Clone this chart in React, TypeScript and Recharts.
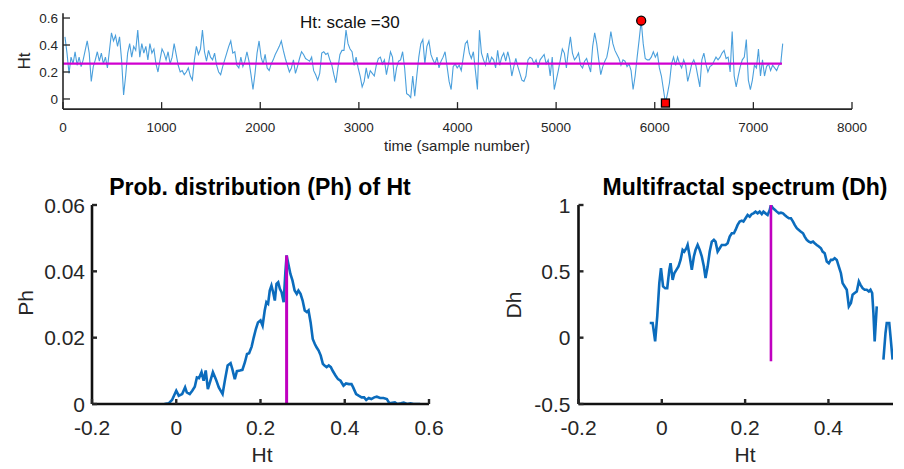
import React from 'react';
import { LineChart, Line, XAxis, YAxis, ReferenceLine, ReferenceDot } from 'recharts';

// time series Ht (scale = 30), one value every TIME_STEP samples
const TIME_START = 20;
const TIME_STEP = 20.5;
const htFirstHalf = [
  0.46, 0.34, 0.19, 0.31, 0.26, 0.35, 0.25, 0.31, 0.24, 0.29,
  0.36, 0.43, 0.34, 0.13, 0.24, 0.29, 0.35, 0.28, 0.34, 0.26,
  0.31, 0.23, 0.36, 0.49, 0.43, 0.47, 0.39, 0.46, 0.29, 0.03,
  0.17, 0.34, 0.41, 0.31, 0.39, 0.36, 0.51, 0.31, 0.41, 0.34,
  0.39, 0.29, 0.41, 0.34, 0.37, 0.26, 0.20, 0.29, 0.37, 0.34,
  0.29, 0.35, 0.26, 0.31, 0.41, 0.33, 0.25, 0.20, 0.21, 0.18,
  0.20, 0.23, 0.17, 0.14, 0.29, 0.39, 0.33, 0.37, 0.51, 0.35,
  0.28, 0.36, 0.31, 0.29, 0.34, 0.25, 0.20, 0.18, 0.24, 0.29,
  0.34, 0.39, 0.43, 0.34, 0.35, 0.25, 0.23, 0.31, 0.24, 0.28,
  0.35, 0.28, 0.18, 0.07, 0.19, 0.34, 0.43, 0.31, 0.26, 0.33,
  0.23, 0.21, 0.26, 0.29, 0.33, 0.36, 0.39, 0.43, 0.36, 0.30,
  0.25, 0.20, 0.23, 0.29, 0.19, 0.24, 0.30, 0.35, 0.33, 0.30,
  0.29, 0.28, 0.31, 0.21, 0.18, 0.14, 0.19, 0.34, 0.35, 0.33,
  0.34, 0.29, 0.25, 0.18, 0.12, 0.23, 0.33, 0.36, 0.36, 0.51,
  0.41, 0.37, 0.35, 0.25, 0.31, 0.23, 0.17, 0.09, 0.13, 0.23,
  0.15, 0.21, 0.19, 0.17, 0.25, 0.30, 0.31, 0.26, 0.29, 0.18,
  0.26, 0.35, 0.31, 0.13, 0.23, 0.28, 0.29, 0.35, 0.23, 0.04,
  0.03, 0.01, 0.17,
];
const htSecondHalf = [
  0.02, 0.17, 0.31, 0.41, 0.44, 0.26, 0.39, 0.43, 0.33, 0.29,
  0.26, 0.31, 0.23, 0.28, 0.31, 0.35, 0.24, 0.13, 0.07, 0.24,
  0.26, 0.23, 0.25, 0.21, 0.31, 0.41, 0.43, 0.34, 0.30, 0.35,
  0.21, 0.07, 0.51, 0.34, 0.29, 0.25, 0.34, 0.26, 0.31, 0.29,
  0.23, 0.36, 0.25, 0.31, 0.34, 0.28, 0.35, 0.29, 0.17, 0.24,
  0.30, 0.24, 0.19, 0.14, 0.13, 0.17, 0.29, 0.31, 0.30, 0.26,
  0.29, 0.23, 0.29, 0.31, 0.33, 0.26, 0.29, 0.17, 0.31, 0.07,
  0.14, 0.21, 0.29, 0.37, 0.34, 0.23, 0.36, 0.46, 0.34, 0.29,
  0.31, 0.34, 0.25, 0.23, 0.28, 0.30, 0.25, 0.20, 0.39, 0.49,
  0.41, 0.29, 0.18, 0.24, 0.28, 0.31, 0.39, 0.50, 0.41, 0.36,
  0.33, 0.30, 0.25, 0.29, 0.28, 0.24, 0.26, 0.21, 0.07, 0.17,
  0.31, 0.44, 0.58, 0.41, 0.30, 0.29, 0.29, 0.31, 0.35, 0.31,
  0.34, 0.23, 0.17, 0.07, -0.03, 0.04, 0.12, 0.26, 0.31, 0.25,
  0.31, 0.26, 0.23, 0.29, 0.25, 0.13, 0.19, 0.26, 0.29, 0.25,
  0.17, 0.09, 0.29, 0.34, 0.26, 0.20, 0.24, 0.25, 0.28, 0.31,
  0.29, 0.31, 0.34, 0.36, 0.30, 0.31, 0.20, 0.50, 0.17, 0.09,
  0.17, 0.24, 0.29, 0.31, 0.44, 0.14, 0.07, 0.14, 0.25, 0.23,
  0.37, 0.17, 0.29, 0.17, 0.24, 0.26, 0.21, 0.25, 0.23, 0.21,
  0.25, 0.26, 0.41,
];
const MEAN_HT = 0.262;
const MEAN_END = 7290;

// probability distribution Ph(h)
const phH = [
  -0.028, -0.018, -0.01, 0, 0.006, 0.014, 0.021, 0.025, 0.032, 0.038,
  0.044, 0.049, 0.054, 0.06, 0.065, 0.07, 0.075, 0.081, 0.087, 0.094,
  0.101, 0.11, 0.116, 0.122, 0.129, 0.133, 0.139, 0.144, 0.151, 0.157,
  0.163, 0.168, 0.173, 0.179, 0.184, 0.189, 0.194, 0.2, 0.205, 0.21,
  0.214, 0.218, 0.222, 0.226, 0.23, 0.234, 0.238, 0.242, 0.246, 0.25,
  0.255, 0.259, 0.262, 0.266, 0.271, 0.276, 0.281, 0.286, 0.29, 0.295,
  0.3, 0.305, 0.31, 0.314, 0.319, 0.324, 0.329, 0.333, 0.338, 0.343,
  0.348, 0.352, 0.357, 0.362, 0.367, 0.371, 0.378, 0.384, 0.39, 0.397,
  0.403, 0.41, 0.416, 0.42, 0.427, 0.433, 0.44, 0.446, 0.451, 0.457,
  0.463, 0.47, 0.476, 0.484, 0.492, 0.5, 0.506, 0.513, 0.519, 0.525,
  0.533, 0.54, 0.548, 0.556, 0.563, 0.579,
];
const phVal = [
  0, 0.0002, 0.0012, 0.004, 0.0025, 0.003, 0.005, 0.0035, 0.003, 0.004,
  0.0052, 0.008, 0.0078, 0.0096, 0.007, 0.0101, 0.0045, 0.007, 0.0096, 0.0075,
  0.005, 0.003, 0.0075, 0.0116, 0.0123, 0.0106, 0.0075, 0.0099, 0.0101, 0.0103,
  0.0126, 0.0151, 0.0153, 0.0173, 0.0201, 0.0226, 0.0246, 0.0252, 0.0236, 0.0282,
  0.0307, 0.0302, 0.0342, 0.0357, 0.0337, 0.0312, 0.0362, 0.0367, 0.0347, 0.0337,
  0.0307, 0.0397, 0.0448, 0.0423, 0.0392, 0.0372, 0.0342, 0.0332, 0.0342, 0.0332,
  0.0312, 0.0282, 0.0277, 0.0282, 0.0246, 0.0196, 0.0181, 0.0171, 0.0161, 0.0146,
  0.0121, 0.0116, 0.0111, 0.0116, 0.0111, 0.0101, 0.0086, 0.0075, 0.007, 0.0055,
  0.0062, 0.006, 0.006, 0.005, 0.003, 0.0025, 0.002, 0.002, 0.0012, 0.0018,
  0.0015, 0.002, 0.0022, 0.0018, 0.0018, 0.0015, 0.0002, 0.0004, 0.0005, 0,
  0.0002, 0.0004, 0, 0.0002, 0, 0,
];

// multifractal spectrum Dh(h), null = gap
const dhH = [
  -0.029, -0.022, -0.016, -0.011, -0.006, -0.002, 0.003, 0.008, 0.013, 0.018,
  0.021, 0.026, 0.03, 0.035, 0.04, 0.045, 0.05, 0.054, 0.059, 0.062,
  0.067, 0.072, 0.077, 0.081, 0.086, 0.091, 0.096, 0.101, 0.105, 0.11,
  0.115, 0.12, 0.125, 0.129, 0.134, 0.139, 0.144, 0.149, 0.153, 0.158,
  0.163, 0.168, 0.173, 0.177, 0.182, 0.187, 0.192, 0.196, 0.201, 0.206,
  0.211, 0.216, 0.22, 0.225, 0.23, 0.235, 0.24, 0.244, 0.249, 0.254,
  0.259, 0.262, 0.267, 0.272, 0.276, 0.281, 0.286, 0.291, 0.295, 0.3,
  0.305, 0.31, 0.315, 0.319, 0.324, 0.329, 0.334, 0.339, 0.343, 0.348,
  0.353, 0.358, 0.363, 0.367, 0.372, 0.377, 0.382, 0.386, 0.391, 0.396,
  0.401, 0.406, 0.41, 0.415, 0.42, 0.425, 0.43, 0.434, 0.439, 0.444,
  0.449, 0.454, 0.458, 0.463, 0.468, 0.473, 0.477, 0.482, 0.487, 0.492,
  0.497, 0.501, 0.505, 0.508, 0.511, 0.516, 0.524, 0.532, 0.537, 0.54,
  0.546, 0.549, 0.554,
];
const dhVal = [
  0.11, 0.11, -0.028, 0.16, 0.411, 0.524, 0.386, 0.373, 0.373, 0.511,
  0.561, 0.436, 0.486, 0.511, 0.536, 0.586, 0.662, 0.649, 0.674, 0.699,
  0.612, 0.511, 0.612, 0.662, 0.699, 0.662, 0.612, 0.536, 0.449, 0.536,
  0.649, 0.724, 0.737, 0.724, 0.649, 0.674, 0.699, 0.699, 0.699, 0.712,
  0.762, 0.787, 0.787, 0.812, 0.85, 0.875, 0.882, 0.875, 0.9, 0.925,
  0.912, 0.932, 0.937, 0.95, 0.937, 0.95, 0.932, 0.95, 0.937, 0.925,
  0.962, 1.0, 0.975, 0.962, 0.95, 0.937, 0.942, 0.937, 0.925, 0.912,
  0.9, 0.9, 0.875, 0.85, 0.825, 0.812, 0.799, 0.787, 0.762, 0.737,
  0.724, 0.717, 0.724, 0.712, 0.699, 0.687, 0.674, 0.649, 0.637, 0.574,
  0.561, 0.586, 0.586, 0.599, 0.586, 0.536, 0.486, 0.411, 0.386, 0.361,
  0.236, 0.261, 0.323, 0.336, 0.348, 0.424, 0.398, 0.373, 0.361, 0.361,
  0.348, 0.361, 0.336, 0.185, -0.028, 0.236, null, -0.165, 0.035, 0.11,
  0.11, 0.01, -0.165,
];
const DH_MIN = -0.178;

const topTicksX = [0, 1000, 2000, 3000, 4000, 5000, 6000, 7000, 8000];
const topTicksY = [0, 0.2, 0.4, 0.6];
const phTicksX = [-0.2, 0, 0.2, 0.4, 0.6];
const phTicksY = [0, 0.02, 0.04, 0.06];
const dhTicksX = [-0.2, 0, 0.2, 0.4];
const dhTicksY = [-0.5, 0, 0.5, 1];

const htValues = [...htFirstHalf, ...htSecondHalf];
const seriesData = htValues.map((v, i) => ({ t: TIME_START + i * TIME_STEP, ht: v }));
const phData = phH.map((h, i) => ({ h, p: phVal[i] }));
const dhData = dhH.map((h, i) => ({ h, d: dhVal[i] }));

let iMax = 0;
let iMin = 0;
htValues.forEach((v, i) => {
  if (v > htValues[iMax]) iMax = i;
  if (v < htValues[iMin]) iMin = i;
});
const maxPt = seriesData[iMax];
const minPt = seriesData[iMin];

const FONT = "'Liberation Sans', Arial, Helvetica, sans-serif";
const AXIS = '#262626';
const BLUE = '#0b6cbd';
const MAGENTA = '#c000c0';

const fmt = (v: number) => String(+v.toFixed(3));

function xTick(len: number, fs: number, dy: number, w: number) {
  return (props: any) => {
    const { x, y, payload } = props;
    return (
      <g>
        <line x1={x} y1={y} x2={x} y2={y - len} stroke={AXIS} strokeWidth={w} />
        <text x={x} y={y + dy} textAnchor="middle" fontSize={fs} fill={AXIS} fontFamily={FONT}>
          {fmt(payload.value)}
        </text>
      </g>
    );
  };
}

function yTick(len: number, fs: number, gap: number, w: number) {
  return (props: any) => {
    const { x, y, payload } = props;
    return (
      <g>
        <line x1={x} y1={y} x2={x + len} y2={y} stroke={AXIS} strokeWidth={w} />
        <text x={x - gap} y={y + fs * 0.36} textAnchor="end" fontSize={fs} fill={AXIS} fontFamily={FONT}>
          {fmt(payload.value)}
        </text>
      </g>
    );
  };
}

const RedSquare = (p: any) => (
  <rect x={p.cx - 4} y={p.cy - 4} width={8} height={8} fill="#ff0000" stroke="#000" strokeWidth={1.3} />
);

export default function App() {
  return (
    <div style={{ position: 'absolute', left: 0, top: 0, width: 904, height: 469, background: '#fff', overflow: 'hidden' }}>
      {/* top: Ht time series */}
      <div style={{ position: 'absolute', left: 0, top: 0 }}>
        <LineChart width={904} height={160} data={seriesData} margin={{ top: 13.3, right: 52, bottom: 20.9, left: 13 }}>
          <XAxis
            dataKey="t" type="number" domain={[0, 8000]} ticks={topTicksX} interval={0}
            height={30} tickSize={0} tickMargin={0} tickLine={false}
            axisLine={{ stroke: AXIS, strokeWidth: 1.6 }}
            tick={xTick(7, 13.5, 22.5, 1.3)}
          />
          <YAxis
            type="number" domain={[-0.075, 0.635]} ticks={topTicksY} interval={0} allowDataOverflow
            width={50} tickSize={0} tickMargin={0} tickLine={false}
            axisLine={{ stroke: AXIS, strokeWidth: 1.6 }}
            tick={yTick(7, 13.5, 5, 1.3)}
          />
          <Line dataKey="ht" stroke="#4a9fdc" strokeWidth={1.1} dot={false} activeDot={false} isAnimationActive={false} />
          <ReferenceLine
            segment={[{ x: 0, y: MEAN_HT }, { x: MEAN_END, y: MEAN_HT }]}
            stroke="#d000d0" strokeWidth={2.2}
          />
          <ReferenceDot x={maxPt.t} y={maxPt.ht} r={4.5} fill="#ff0000" stroke="#000" strokeWidth={1.3} />
          <ReferenceDot x={minPt.t} y={minPt.ht} shape={RedSquare} />
        </LineChart>
      </div>

      {/* bottom-left: Ph */}
      <div style={{ position: 'absolute', left: 0, top: 160 }}>
        <LineChart width={452} height={309} data={phData} margin={{ top: 45, right: 23, bottom: 25, left: 32 }}>
          <XAxis
            dataKey="h" type="number" domain={[-0.2, 0.6]} ticks={phTicksX} interval={0} allowDataOverflow
            height={40} tickSize={0} tickMargin={0} tickLine={false}
            axisLine={{ stroke: '#111', strokeWidth: 2.6 }}
            tick={xTick(5, 21, 30.5, 2.4)}
          />
          <YAxis
            type="number" domain={[0, 0.06]} ticks={phTicksY} interval={0} allowDataOverflow
            width={60} tickSize={0} tickMargin={0} tickLine={false}
            axisLine={{ stroke: '#111', strokeWidth: 2.6 }}
            tick={yTick(5, 21, 7, 2.4)}
          />
          <Line dataKey="p" stroke={BLUE} strokeWidth={2.6} dot={false} activeDot={false} isAnimationActive={false} />
          <ReferenceLine
            segment={[{ x: MEAN_HT, y: 0 }, { x: MEAN_HT, y: Math.max(...phVal) }]}
            stroke={MAGENTA} strokeWidth={3}
          />
        </LineChart>
      </div>

      {/* bottom-right: Dh */}
      <div style={{ position: 'absolute', left: 452, top: 160 }}>
        <LineChart width={452} height={309} data={dhData} margin={{ top: 45, right: 11, bottom: 25, left: 66.5 }}>
          <XAxis
            dataKey="h" type="number" domain={[-0.2, 0.555]} ticks={dhTicksX} interval={0} allowDataOverflow
            height={40} tickSize={0} tickMargin={0} tickLine={false}
            axisLine={{ stroke: '#111', strokeWidth: 2.6 }}
            tick={xTick(5, 21, 30.5, 2.4)}
          />
          <YAxis
            type="number" domain={[-0.5, 1]} ticks={dhTicksY} interval={0} allowDataOverflow
            width={60} tickSize={0} tickMargin={0} tickLine={false}
            axisLine={{ stroke: '#111', strokeWidth: 2.6 }}
            tick={yTick(5, 21, 8, 2.4)}
          />
          <Line dataKey="d" stroke={BLUE} strokeWidth={2.6} dot={false} activeDot={false} isAnimationActive={false} />
          <ReferenceLine
            segment={[{ x: MEAN_HT, y: DH_MIN }, { x: MEAN_HT, y: 1 }]}
            stroke={MAGENTA} strokeWidth={2.6}
          />
        </LineChart>
      </div>

      {/* titles and axis labels */}
      <svg width={904} height={469} style={{ position: 'absolute', left: 0, top: 0, pointerEvents: 'none' }} fontFamily={FONT}>
        <text x={30} y={61} fontSize={17} fill={AXIS} textAnchor="middle" transform="rotate(-90 30 61)">Ht</text>
        <text x={457} y={151} fontSize={15} fill={AXIS} textAnchor="middle">time (sample number)</text>
        <text x={300} y={28} fontSize={17} fill="#111">Ht: scale =30</text>

        <text x={260} y={195} fontSize={23} fontWeight="bold" fill="#000" textAnchor="middle">Prob. distribution (Ph) of Ht</text>
        <text x={33} y={303} fontSize={21} fill={AXIS} textAnchor="middle" transform="rotate(-90 33 303)">Ph</text>
        <text x={262} y={462} fontSize={21} fill={AXIS} textAnchor="middle">Ht</text>

        <text x={745} y={195} fontSize={23} fontWeight="bold" fill="#000" textAnchor="middle">Multifractal spectrum (Dh)</text>
        <text x={521} y={305} fontSize={21} fill={AXIS} textAnchor="middle" transform="rotate(-90 521 305)">Dh</text>
        <text x={745} y={462} fontSize={21} fill={AXIS} textAnchor="middle">Ht</text>
      </svg>
    </div>
  );
}
